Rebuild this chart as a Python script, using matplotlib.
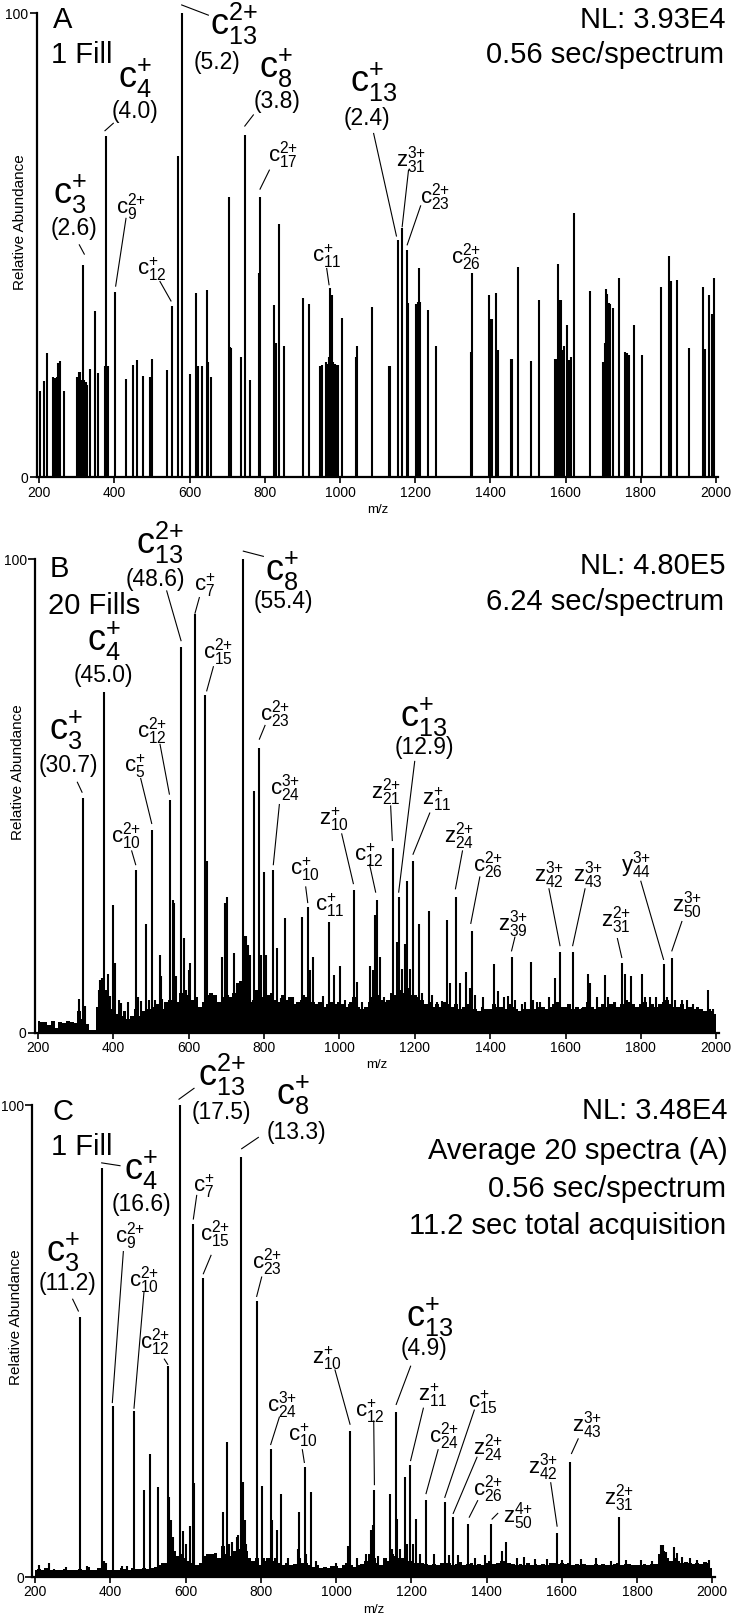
import numpy as np
import matplotlib
matplotlib.use('Agg')
import matplotlib.pyplot as plt

plt.rcParams['font.family'] = ['Liberation Sans', 'DejaVu Sans']
plt.rcParams['mathtext.default'] = 'regular'

# ---------------- data: stick spectra (m/z, relative abundance) ----------------
A_MZ = [201.8, 212.4, 221.3, 237.3, 241.7, 246.1, 250.6, 255.0, 265.6, 301.1, 304.7, 308.2,
        311, 314, 317.1, 320, 324, 327.7, 334.8, 348.1, 357.0, 375.6, 377.4, 383.6, 401.3,
        430.6, 448.3, 460.8, 476.7, 494.5, 499.8, 540.6, 553.0, 568.1, 580.5, 600.9, 616.9,
        623.1, 632.8, 645.2, 649.7, 655.9, 703.8, 706, 710.0, 736.6, 748.2, 760.5, 785, 787.1,
        824.4, 829.7, 836.8, 851.0, 902.4, 918.4, 946.8, 951.2, 962.7, 966, 970, 973.4, 977.8,
        982.3, 986.7, 990, 995.6, 1004.4, 1042.6, 1046.1, 1085.7, 1129.5, 1132, 1153.6, 1165.2,
        1176.8, 1181.3, 1202.7, 1207.1, 1210.7, 1213.4, 1234.8, 1254.5, 1347.3, 1350, 1396.4,
        1401.8, 1405.4, 1415.2, 1419.6, 1454.5, 1457.1, 1473.2, 1507.1, 1530.4, 1571.4, 1575,
        1579.5, 1583.9, 1587.5, 1591, 1594.6, 1603.6, 1609.8, 1615.2, 1623.2, 1664.3, 1698.2,
        1703.6, 1707.1, 1710.7, 1714.3, 1717.9, 1725, 1742.9, 1758.9, 1762.5, 1767.9, 1781.3,
        1803.6, 1854.5, 1875.9, 1880.4, 1897.3, 1927.7, 1964.3, 1970.5, 1981.3, 1989.3, 1994.6]
A_INT = [18.7, 20.8, 26.7, 21.7, 21.3, 21.7, 24.7, 25.1, 18.7, 21.6, 22.8, 22.8,
         21, 20, 45.8, 21, 20.5, 20.0, 23.3, 35.9, 22.4, 24.0, 73.6, 24.0, 40.0,
         21.2, 24.2, 25.3, 21.9, 21.6, 25.5, 23.1, 36.9, 69.3, 100, 22.3, 39.7,
         23.9, 23.9, 40.4, 24.9, 21.6, 60.5, 28, 27.8, 26.0, 73.8, 21.0, 44, 60.5,
         37.1, 28.9, 54.5, 28.2, 38.7, 37.4, 23.9, 24.2, 24.9, 24.5, 26, 40.9, 39.3,
         24.9, 24.5, 24.3, 24.3, 34.3, 26.0, 28.2, 36.8, 23.9, 24, 51.1, 53.7,
         49.0, 37.6, 37.4, 37.8, 45.2, 37.8, 36.1, 28.3, 27.1, 44.1, 39.3,
         34.1, 34.1, 39.7, 27.4, 25.5, 25.5, 45.4, 25.1, 38.2, 25.4, 25.4,
         45.9, 38.2, 38.2, 27.4, 28.3, 32.8, 25.3, 26.0, 56.9, 40.2, 24.9,
         28.9, 40.5, 39.5, 37.6, 37.4, 36.4, 42.9, 27.1, 26.7, 26.4, 32.8,
         26.4, 41.1, 47.6, 42.3, 42.5, 27.8, 41.1, 27.6, 39.3, 35.3, 43.0]

B_MZ = [310, 319.3, 325, 362, 366, 370, 375.0, 380, 386, 392, 400.7, 404, 416, 422, 440,
        459.9, 465, 475, 486.4, 494, 504.1, 511, 524.4, 527, 531, 550.1, 559.8, 562, 567,
        580.1, 584, 589, 593, 600, 604, 617.2, 621, 626, 632, 643.8, 648.2, 690, 697, 702,
        706, 720, 728, 745.4, 749, 753, 757, 762, 772, 774, 787.0, 792, 801.1, 806, 825.0,
        834, 846, 856, 860, 874, 878, 902, 907, 916, 922, 931, 946, 958, 973, 986, 1002,
        1015, 1027, 1039, 1046, 1060, 1082, 1090, 1095, 1100.8, 1107, 1119, 1130, 1142.4,
        1152, 1157.5, 1165, 1175, 1180, 1188, 1195, 1211, 1220, 1238, 1245, 1258, 1272,
        1285, 1294, 1309, 1320, 1335, 1347, 1352, 1360, 1382, 1411, 1422, 1436, 1448,
        1457.8, 1467, 1484, 1493, 1508, 1515, 1524, 1533, 1555, 1571, 1586, 1594, 1619,
        1630, 1643, 1661, 1665, 1683, 1705, 1714, 1731, 1750, 1758, 1775, 1788, 1803,
        1811, 1824, 1840, 1861, 1868, 1882, 1891, 1908, 1921, 1939, 1948, 1979, 1992]
B_INT = [7.1, 49.5, 5.7, 9, 11.1, 11.5, 72.0, 9, 12.4, 7.8, 26.9, 14.7, 7.0, 6.3, 6.5,
         34.3, 7.5, 6.8, 22.9, 7, 42.8, 7, 16.4, 12, 7.1, 49.1, 28.1, 27.5, 11.9,
         81.5, 6, 20.1, 9, 13.3, 14.7, 88.4, 6, 5.5, 4.6, 71.3, 36.2, 16.1, 27.5, 28.7,
         8, 16.8, 10, 100, 20.5, 20.4, 18.6, 16.5, 7, 51.1, 60.2, 16.4, 33.9, 16.4, 34.3,
         17.8, 7.3, 24.2, 6, 7.3, 7.6, 24.5, 8, 26.5, 13.3, 16.1, 6.5, 7.7, 23.3, 12.2, 14.2,
         6.9, 6, 30.2, 10.7, 6.5, 14.0, 13.2, 24.8, 28.0, 16.1, 7.5, 6.5, 39.0,
         19.2, 28.6, 13.5, 18.8, 32.1, 13.5, 36.3, 23.0, 8.5, 25.7, 8, 6.5, 6.8,
         23.8, 10.5, 28.7, 10.5, 12.8, 9.5, 21.5, 8, 7.5, 14.5, 8.8, 7.5, 7.8,
         16.1, 7, 6, 6.5, 14.9, 7, 6.5, 6.5, 7.5, 11.6, 17.1, 5.5, 17.1,
         5.5, 5.3, 12.4, 10.5, 7.5, 12.1, 7.5, 6.5, 14.7, 12.5, 11.9, 5.5, 12.4,
         7.5, 7.5, 7.5, 14.5, 7.5, 15.7, 7, 7, 7, 6, 5.3, 9.0, 5]

C_MZ = [211.5, 238, 250, 283, 320.5, 337, 379, 383, 388, 406.4, 431, 445, 462.2, 489.7,
        505.6, 526.9, 552.6, 556, 562, 568, 585.4, 594, 601, 612, 620, 622, 645.6, 700.6,
        709.4, 716, 723, 736, 740, 747.5, 753.6, 757, 760, 789.2, 804, 809, 826.4, 829,
        842, 853.8, 872, 898, 902.4, 905, 916.6, 921, 933.4, 946, 1000, 1033, 1038, 1056,
        1080, 1093, 1097, 1102, 1112, 1144, 1150, 1159.5, 1163, 1170, 1182, 1188, 1196,
        1205, 1212.5, 1222, 1240, 1260, 1289, 1300, 1311, 1325, 1352, 1370, 1395, 1413,
        1440, 1453, 1480, 1500, 1530, 1560, 1586, 1600, 1622, 1650, 1690, 1730, 1752,
        1770, 1810, 1840, 1864, 1869, 1878, 1899, 1906, 1920, 1940, 1960, 1990]
C_INT = [2.5, 2.9, 1.8, 2.2, 55.1, 2.3, 86.7, 3.5, 3, 36.2, 2.3, 2.3, 35.2, 18.5,
         26.0, 19.0, 44.7, 17.0, 12.0, 8.5, 100, 9.8, 7, 10.8, 74.9, 20, 63.4, 13.9,
         28.7, 7, 7.5, 8.6, 9, 89.1, 20.2, 12, 7, 58.6, 19.3, 4, 27.2, 12.2,
         10, 17.7, 4, 6, 13.9, 4, 23.4, 5, 18.1, 3.5, 3, 6.5, 31.0, 4,
         5, 10, 11, 18.5, 4.5, 17.6, 6, 35.1, 12.3, 6, 21.2, 7, 23.7,
         7, 12.3, 5, 16.3, 5, 15.9, 4.6, 12.7, 4.6, 11.3, 4, 4.6, 11.2,
         5.5, 7.4, 4, 4.2, 3.8, 3.8, 9.3, 3.6, 24.5, 3.8, 4, 3.5, 12.8,
         3.6, 3.6, 3.5, 6.8, 6.8, 5.4, 6.3, 5.2, 4.2, 4.0, 3.6, 3.6]

# noise floor of the multi-scan spectra, one value per 10 m/z from 200 to 2000
GRASS_MZ = np.arange(200, 2001, 10)
B_GRASS = [2.4, 2.2, 2.3, 1.6, 2.4, 1.0, 2.3, 2.1, 2.4, 2.2,
           2.0, 4.5, 3.0, 1.8, 0.6, 0.5, 5.5, 7.5, 6.5, 4.5,
           5.0, 4.0, 3.5, 4.5, 3.0, 3.5, 5.0, 3.5, 4.5, 5.0,
           5.0, 5.5, 6.0, 5.0, 6.5, 7.0, 7.5, 6.5, 8.5, 7.5,
           8.0, 7.0, 7.5, 5.5, 6.5, 8.0, 8.5, 8.0, 6.5, 7.5,
           9.5, 7.5, 8.5, 10.5, 11.0, 10.0, 9.0, 6.5, 9.0, 8.5,
           7.5, 8.0, 8.5, 7.0, 6.5, 8.0, 7.0, 7.5, 6.0, 6.5,
           7.0, 7.5, 8.0, 6.5, 6.0, 6.5, 5.5, 6.0, 6.5, 6.0,
           6.5, 6.0, 5.5, 6.5, 7.5, 5.5, 5.0, 5.5, 6.5, 7.5,
           8.0, 7.0, 6.5, 7.0, 8.5, 8.0, 9.0, 8.5, 9.5, 8.0,
           8.0, 7.5, 7.0, 6.0, 6.5, 5.5, 6.0, 5.5, 6.5, 6.0,
           5.5, 6.0, 5.0, 5.5, 6.0, 5.5, 5.0, 4.5, 5.5, 5.0,
           5.0, 6.0, 5.5, 5.5, 5.0, 6.0, 5.5, 5.0, 4.5, 5.0,
           5.0, 5.5, 5.0, 5.5, 5.5, 5.0, 5.5, 6.0, 6.5, 5.5,
           5.5, 6.0, 5.0, 5.5, 5.0, 5.5, 6.5, 5.5, 5.0, 5.5,
           6.0, 5.5, 6.0, 6.5, 5.5, 6.0, 7.0, 6.5, 6.0, 5.5,
           6.0, 6.5, 5.5, 6.0, 5.5, 6.0, 6.5, 7.0, 6.0, 5.5,
           5.5, 6.0, 5.0, 5.5, 5.0, 5.5, 5.0, 4.5, 5.0, 4.5,
           4.0]
C_GRASS = [1.5, 1.8, 1.4, 2.0, 1.6, 1.5, 1.4, 1.6, 1.8, 1.5,
           1.5, 1.6, 1.8, 1.4, 2.2, 1.6, 1.5, 2.0, 2.5, 1.6,
           1.5, 1.6, 1.5, 2.0, 1.8, 1.6, 1.9, 1.7, 1.8, 2.0,
           1.8, 2.0, 2.2, 2.5, 3.0, 3.0, 4.5, 5.5, 4.5, 5.0,
           4.0, 3.5, 3.0, 2.5, 3.0, 4.5, 5.0, 5.0, 5.2, 4.0,
           6.5, 5.0, 4.5, 5.5, 6.0, 7.0, 5.5, 4.0, 3.5, 4.0,
           2.5, 3.5, 4.0, 3.5, 4.0, 3.0, 2.5, 3.0, 2.5, 2.8,
           3.5, 3.0, 3.0, 2.5, 2.2, 2.5, 2.0, 2.2, 2.0, 2.3,
           2.3, 2.0, 2.5, 3.0, 2.5, 2.2, 2.5, 2.8, 3.5, 5.0,
           4.0, 3.0, 2.5, 4.0, 3.5, 5.0, 4.5, 4.0, 4.0, 3.5,
           3.5, 3.0, 3.0, 3.0, 2.8, 2.5, 2.8, 2.5, 3.0, 3.0,
           3.0, 2.5, 2.8, 3.2, 2.5, 2.8, 3.0, 2.5, 2.8, 2.5,
           3.0, 3.5, 2.8, 3.0, 3.5, 3.5, 3.0, 2.8, 2.5, 2.8,
           2.5, 3.0, 2.5, 2.8, 2.5, 2.7, 2.5, 3.0, 3.0, 2.8,
           3.0, 2.8, 3.0, 2.5, 2.8, 2.5, 2.7, 2.5, 2.5, 2.8,
           2.5, 2.8, 2.5, 2.6, 2.8, 3.0, 2.5, 2.8, 2.7, 2.5,
           2.5, 2.6, 2.8, 2.5, 2.7, 2.8, 5.0, 5.5, 4.0, 3.5,
           4.0, 3.5, 3.0, 3.2, 3.0, 2.8, 3.0, 2.8, 3.2, 3.0,
           2.0]

X_TICKS = [200, 400, 600, 800, 1000, 1200, 1400, 1600, 1800, 2000]

# ---------------- annotations (ion, subscript, charge, x, y, size) ----------------
A_IONS = [('c', '13', '2+', 654.1, 95.3, 'big'), ('c', '4', '+', 410.2, 84.0, 'big'),
          ('c', '3', '+', 237.3, 59.0, 'big'), ('c', '8', '+', 785.4, 86.2, 'big'),
          ('c', '13', '+', 1026.6, 83.0, 'big'),
          ('c', '9', '2+', 404.0, 56.9, 'small'), ('c', '12', '+', 459.0, 43.6, 'small'),
          ('c', '17', '2+', 809.3, 68.0, 'small'), ('c', '11', '+', 924.6, 46.5, 'small'),
          ('z', '31', '3+', 1149.1, 66.9, 'small'), ('c', '23', '2+', 1211.6, 59.0, 'small'),
          ('c', '26', '2+', 1296.4, 46.1, 'small')]
A_NOTES = [('(5.2)', 671.8, 87.9), ('(4.0)', 454.5, 77.4), ('(2.6)', 292.2, 52.2),
           ('(3.8)', 831.5, 79.5), ('(2.4)', 1071, 75.9)]
A_LEADERS = [(649.7, 99.6, 578.7, 101.8), (396.9, 76.3, 374.7, 74.7),
             (306.4, 50.1, 319.7, 48.1), (769.4, 78.1, 746.6, 75.7),
             (1089.3, 74.1, 1150, 52.0), (430.6, 55.8, 403.1, 41.2),
             (521.0, 42.2, 550.3, 38.0), (812.0, 66.2, 787.1, 62.1),
             (964.5, 45.0, 970.7, 41.5), (1182.1, 66.2, 1165.2, 54.0),
             (1214.3, 58.5, 1178.6, 50.1)]

B_IONS = [('c', '13', '2+', 460.8, 101.1, 'big'), ('c', '8', '+', 803.0, 95.5, 'big'),
          ('c', '4', '+', 331.7, 80.6, 'big'), ('c', '3', '+', 230.9, 61.8, 'big'),
          ('c', '13', '+', 1160.1, 64.6, 'big'),
          ('c', '7', '+', 615.6, 93.3, 'small'), ('c', '15', '2+', 639.4, 79.1, 'small'),
          ('c', '12', '2+', 462.6, 62.4, 'small'), ('c', '5', '+', 429.0, 55.1, 'small'),
          ('c', '10', '2+', 393.6, 40.2, 'small'), ('c', '23', '2+', 789.7, 66.0, 'small'),
          ('c', '24', '3+', 816.3, 50.4, 'small'), ('c', '10', '+', 869.3, 33.3, 'small'),
          ('c', '11', '+', 935.6, 25.7, 'small'), ('z', '10', '+', 947.1, 43.9, 'small'),
          ('c', '12', '+', 1039.1, 36.2, 'small'), ('z', '21', '2+', 1084.8, 49.5, 'small'),
          ('z', '11', '+', 1220.4, 48.2, 'small'), ('z', '24', '2+', 1277.1, 40.2, 'small'),
          ('c', '26', '2+', 1355.0, 34.0, 'small'), ('z', '39', '3+', 1421.5, 21.7, 'small'),
          ('z', '42', '3+', 1516.3, 31.9, 'small'), ('z', '43', '3+', 1620.8, 31.9, 'small'),
          ('y', '44', '3+', 1746.6, 34.0, 'small'), ('z', '31', '2+', 1693.4, 22.4, 'small'),
          ('z', '50', '3+', 1882.1, 25.7, 'small')]
B_NOTES = [('(48.6)', 511.2, 94.4), ('(55.4)', 851.6, 89.7), ('(45.0)', 374.2, 74.0),
           ('(30.7)', 281.3, 55.1), ('(12.9)', 1226.6, 58.8)]
B_LEADERS = [(542.2, 93.3, 580.2, 82.8), (628.8, 91.9, 617.3, 88.6),
             (798.6, 100.6, 745.4, 101.7), (666.0, 77.3, 648.3, 72.2),
             (305.2, 52.9, 317.6, 50.8), (524.5, 60.9, 549.3, 50.4),
             (473.2, 53.7, 502.4, 44.2), (449.3, 38.4, 459.9, 35.5),
             (803.0, 64.9, 788.0, 62.0), (841.0, 48.2, 825.0, 35.5),
             (910.9, 30.8, 916.2, 27.5), (1006.4, 42.0, 1037.3, 31.5),
             (1080.4, 35.5, 1096.4, 29.7), (1200.0, 57.3, 1157.5, 29.7),
             (1136.2, 47.9, 1140.6, 40.6), (1239.9, 46.4, 1195.6, 37.7),
             (1326.7, 38.4, 1308.1, 30.4), (1372.7, 32.9, 1348.8, 23.1),
             (1465.8, 20.2, 1456.9, 17.3), (1556.1, 30.4, 1585.4, 18.4),
             (1651.8, 30.4, 1619.0, 18.4), (1799.8, 32.0, 1860.0, 15.5),
             (1737.7, 19.9, 1749.3, 15.9), (1908.7, 23.5, 1882.1, 17.3)]

C_IONS = [('c', '13', '2+', 634.1, 104.0, 'big'), ('c', '8', '+', 840.5, 100.2, 'big'),
          ('c', '4', '+', 436.5, 84.3, 'big'), ('c', '3', '+', 229.2, 66.8, 'big'),
          ('c', '13', '+', 1184.9, 53.0, 'big'),
          ('c', '7', '+', 619.0, 81.7, 'small'), ('c', '15', '2+', 638.5, 71.3, 'small'),
          ('c', '9', '2+', 412.6, 70.9, 'small'), ('c', '10', '2+', 450.7, 61.6, 'small'),
          ('c', '23', '2+', 775.9, 65.5, 'small'), ('c', '12', '2+', 479.1, 48.5, 'small'),
          ('z', '10', '+', 935.3, 45.1, 'small'), ('c', '24', '3+', 815.7, 35.1, 'small'),
          ('c', '10', '+', 873.3, 28.9, 'small'), ('c', '12', '+', 1050.5, 33.9, 'small'),
          ('z', '11', '+', 1217.8, 37.4, 'small'), ('c', '15', '+', 1349.7, 35.8, 'small'),
          ('c', '24', '2+', 1247.2, 28.5, 'small'), ('z', '24', '2+', 1363.0, 26.0, 'small'),
          ('c', '26', '2+', 1363.0, 17.3, 'small'), ('z', '50', '4+', 1443.2, 11.6, 'small'),
          ('z', '42', '3+', 1510.0, 22.0, 'small'), ('z', '43', '3+', 1627.6, 30.8, 'small'),
          ('z', '31', '2+', 1713.1, 15.4, 'small')]
C_NOTES = [('(17.5)', 696.1, 97.1), ('(13.3)', 893.7, 92.8), ('(16.6)', 483.5, 77.6),
           ('(11.2)', 286.8, 60.9), ('(4.9)', 1233.9, 47.0)]
C_LEADERS = [(622.6, 103.6, 582.7, 101.3), (793.6, 93.2, 749.3, 90.8),
             (425.9, 87.2, 377.2, 87.8), (300.1, 58.9, 315.2, 56.4),
             (629.7, 80.9, 620.8, 75.9), (667.8, 68.2, 647.4, 64.3),
             (434.8, 69.0, 405.5, 37.0), (489.7, 60.5, 463.1, 35.8),
             (802.4, 63.6, 789.1, 59.5), (543.7, 46.2, 552.6, 45.1),
             (997.3, 43.9, 1037.2, 32.4), (849.4, 33.9, 826.4, 28.1),
             (910.5, 27.0, 915.8, 24.3), (1100.2, 33.1, 1102.0, 19.6),
             (1198.2, 44.7, 1159.9, 36.6), (1232.1, 35.8, 1198.2, 24.7),
             (1367.5, 35.4, 1289.1, 16.9), (1271.3, 27.0, 1239.2, 17.7),
             (1374.6, 25.4, 1311.4, 13.5), (1376.4, 16.2, 1354.1, 12.7),
             (1429.8, 13.5, 1414.7, 12.3), (1570.6, 20.0, 1587.5, 10.8),
             (1643.6, 29.3, 1625.8, 26.2)]

A_LEFT = [('A', 235.5, 96.8), ('1 Fill', 230.2, 89.2)]
B_LEFT = [('B', 230.9, 96.2), ('20 Fills', 228.3, 88.4)]
C_LEFT = [('C', 247.0, 96.9), ('1 Fill', 241.6, 89.4)]
A_RIGHT = [('NL: 3.93E4', 2024.1, 96.8), ('0.56 sec/spectrum', 2021.4, 89.2)]
B_RIGHT = [('NL: 4.80E5', 2023.6, 96.9), ('6.24 sec/spectrum', 2021.0, 89.3)]
C_RIGHT = [('NL: 3.48E4', 2040.1, 97.1), ('Average 20 spectra (A)', 2040.1, 88.6),
           ('0.56 sec/spectrum', 2037.4, 80.5), ('11.2 sec total acquisition', 2037.4, 72.8)]

SIZES = {'big': 26, 'small': 16}


def ion_label(letter, sub, sup):
    # braces keep mathtext from spacing the '+' like a binary operator
    return '$%s_{%s}^{%s}$' % (letter, sub, sup.replace('+', '{+}'))


def draw_panel(ax, mz, inten, grass, ions, notes, leaders, left, right):
    if grass is not None:
        ax.fill_between(GRASS_MZ, 0, grass, step='mid', color='black', linewidth=0)
    ax.vlines(mz, 0, inten, color='black', linewidth=1.5)
    ax.set_xlim(193, 2006)
    ax.set_ylim(0, 100)
    for s in ['top', 'right']:
        ax.spines[s].set_visible(False)
    for s in ['left', 'bottom']:
        ax.spines[s].set_linewidth(1.6)
    ax.set_xticks(X_TICKS)
    ax.set_yticks([0, 100])
    ax.tick_params(axis='x', length=4.5, width=1.2, pad=1.5, labelsize=10)
    ax.tick_params(axis='y', length=5, width=1.2, pad=1, labelsize=10)
    ax.set_xlabel('m/z', fontsize=9.5, labelpad=3)
    ax.text(-0.0245, 0.55, 'Relative Abundance', transform=ax.transAxes, rotation=90,
            ha='center', va='center', fontsize=11)

    for letter, sub, sup, x, y, size in ions:
        ax.text(x, y, ion_label(letter, sub, sup), fontsize=SIZES[size],
                ha='left', va='baseline', clip_on=False)
    for txt, x, y in notes:
        ax.text(x, y, txt, fontsize=16.5, ha='center', va='baseline', clip_on=False)
    for x1, y1, x2, y2 in leaders:
        ax.plot([x1, x2], [y1, y2], color='black', linewidth=0.8, clip_on=False)
    for txt, x, y in left:
        ax.text(x, y, txt, fontsize=21, ha='left', va='baseline', clip_on=False)
    for txt, x, y in right:
        ax.text(x, y, txt, fontsize=21, ha='right', va='baseline', clip_on=False)


fig = plt.figure(figsize=(7.36, 16.2), dpi=100)
axA = fig.add_axes([0.04982, 0.70537, 0.92607, 0.28642])
axB = fig.add_axes([0.04764, 0.36247, 0.92867, 0.29235])
axC = fig.add_axes([0.04398, 0.02648, 0.92690, 0.29123])

draw_panel(axA, A_MZ, A_INT, None, A_IONS, A_NOTES, A_LEADERS, A_LEFT, A_RIGHT)
draw_panel(axB, B_MZ, B_INT, B_GRASS, B_IONS, B_NOTES, B_LEADERS, B_LEFT, B_RIGHT)
draw_panel(axC, C_MZ, C_INT, C_GRASS, C_IONS, C_NOTES, C_LEADERS, C_LEFT, C_RIGHT)

fig.savefig('out.png', dpi=100)
